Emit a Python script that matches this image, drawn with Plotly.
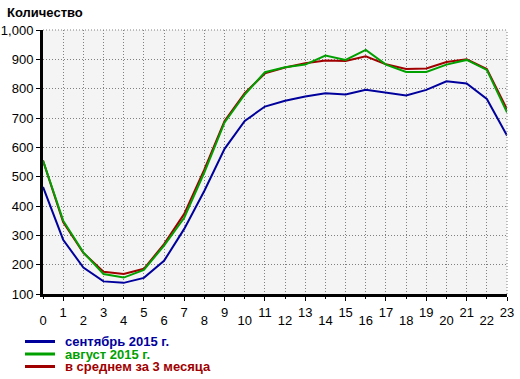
import plotly.graph_objects as go

hours = list(range(24))
sep_2015 = [465, 285, 190, 143, 138, 155, 213, 322, 452, 595, 690, 739, 759, 773, 784, 780, 796, 787, 777, 796, 825, 818, 765, 640]
aug_2015 = [555, 350, 242, 168, 156, 182, 265, 360, 515, 685, 780, 856, 873, 882, 913, 898, 932, 882, 857, 857, 882, 898, 864, 719]
avg_3m = [555, 345, 240, 176, 168, 186, 270, 373, 525, 690, 785, 852, 872, 887, 896, 894, 910, 883, 867, 869, 891, 900, 867, 730]

names = ["сентябрь 2015 г.", "август 2015 г.", "в среднем за 3 месяца"]
colors = ["#00009C", "#00A000", "#A00000"]
series = [sep_2015, aug_2015, avg_3m]

odd_ticks = [h for h in hours if h % 2 == 1]
even_ticks = [h for h in hours if h % 2 == 0]
y_ticks = list(range(100, 1001, 100))

FAM = "Liberation Sans, Arial, sans-serif"
fnt = dict(family=FAM, size=13, color="black")

W, H = 520, 379
L, R, T, B = 43, 13, 30, 85
pw, ph = W - L - R, H - T - B

def px_x(px):
    return (px - L) / pw

def px_y(py):
    return (H - B - py) / ph

fig = go.Figure()
# draw in reverse so the first series sits on top
for name, col, vals in reversed(list(zip(names, colors, series))):
    fig.add_trace(go.Scatter(
        x=hours, y=vals, mode="lines", name=name,
        line=dict(color=col, width=2), showlegend=False,
    ))

fig.add_trace(go.Scatter(x=hours, y=[None] * len(hours), xaxis="x2",
                         showlegend=False, hoverinfo="skip"))

GRID_DASH = "1px,2px"
grid = dict(showgrid=True, gridcolor="#808080", griddash=GRID_DASH, gridwidth=1)

fig.update_layout(
    width=W, height=H,
    margin=dict(l=L, r=R, t=T, b=B),
    paper_bgcolor="white",
    plot_bgcolor="#F4F4F4",
    font=fnt,
    showlegend=False,
    xaxis=dict(
        range=[0, 23], tickmode="array", tickvals=odd_ticks, ticktext=[str(t) for t in odd_ticks],
        **grid,
        showline=True, linecolor="black", linewidth=3,
        ticks="outside", ticklen=4, tickwidth=1, tickcolor="black",
        zeroline=False, ticklabelstandoff=0, tickfont=fnt, automargin=False,
    ),
    xaxis2=dict(
        range=[0, 23], overlaying="x", side="bottom", anchor="y",
        tickmode="array", tickvals=even_ticks, ticktext=[str(t) for t in even_ticks],
        **grid,
        showline=False, ticks="outside", ticklen=4, tickwidth=1, tickcolor="black",
        zeroline=False, ticklabelstandoff=10, tickfont=fnt, automargin=False,
    ),
    yaxis=dict(
        range=[100, 1000], tickmode="array", tickvals=y_ticks, tickformat=",d",
        **grid,
        showline=True, linecolor="black", linewidth=3,
        ticks="outside", ticklen=4, tickwidth=1, tickcolor="black",
        zeroline=False, tickfont=fnt, automargin=False,
    ),
)

annotations = [dict(
    text="<b>Количество</b>", xref="paper", yref="paper", x=px_x(5), y=px_y(12),
    xanchor="left", yanchor="middle", showarrow=False,
    font=dict(family=FAM, size=13, color="black"),
)]

shapes = [
    dict(type="line", xref="paper", yref="paper", x0=0, x1=1, y0=1, y1=1,
         line=dict(color="#808080", width=1, dash=GRID_DASH)),
    dict(type="line", xref="paper", yref="paper", x0=1, x1=1, y0=0, y1=1,
         line=dict(color="#808080", width=1, dash=GRID_DASH)),
]

legend_rows = [341.5, 354, 366.5]
for (name, col), ry in zip(zip(names, colors), legend_rows):
    shapes.append(dict(type="line", xref="paper", yref="paper",
                       x0=px_x(25), x1=px_x(55), y0=px_y(ry), y1=px_y(ry),
                       line=dict(color=col, width=3)))
    annotations.append(dict(
        text=f"<b>{name}</b>", xref="paper", yref="paper", x=px_x(64), y=px_y(ry),
        xanchor="left", yanchor="middle", showarrow=False, borderpad=0,
        font=dict(family=FAM, size=13, color=col),
    ))

fig.update_layout(annotations=annotations, shapes=shapes)

fig.write_html(
    "out.html",
    config={"displayModeBar": False},
    post_script="document.body.style.margin='0';document.body.style.padding='0';",
)
